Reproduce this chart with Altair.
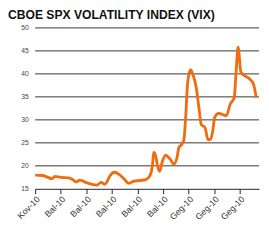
import altair as alt
import pandas as pd

days = [0, 3, 5, 6.6, 7.7, 10, 13, 14.5, 16, 17.5, 19.8, 22, 24, 25.9, 27, 27.8,
        29.2, 31, 32.9, 34.7, 36.5, 38.4, 40.6, 43.3, 44.8, 45.9, 46.3, 47.1, 47.9,
        48.6, 49.8, 51, 52.8, 54.3, 55.4, 56.2, 57.2, 58.1, 58.8, 59.6, 60.7, 61.5,
        63, 64.1, 64.9, 66.4, 67.5, 68.6, 69.4, 70.2, 71.7, 74.7, 76.3, 77.8, 78.5,
        79.3, 80.4, 81.9, 83.8, 85.3, 86.4]
vix = [18.0, 17.9, 17.5, 17.2, 17.7, 17.5, 17.4, 17.1, 16.5, 16.9, 16.4, 16.0, 15.8,
       16.4, 16.0, 16.3, 17.8, 18.6, 18.1, 17.2, 16.2, 16.6, 16.8, 17.0, 17.8, 20.4,
       22.9, 22.2, 19.8, 18.8, 21.1, 22.3, 21.4, 20.4, 21.7, 24.0, 24.6, 25.6, 30.3,
       38.1, 40.9, 40.1, 36.8, 32.2, 29.0, 28.3, 25.7, 25.8, 27.6, 30.6, 31.4, 30.9,
       33.5, 34.8, 40.1, 45.8, 40.4, 39.6, 38.9, 37.8, 34.8]
tick_days = [0, 10, 20, 30, 40, 50, 60, 70, 80]
tick_labels = ["Kov-10", "Bal-10", "Bal-10", "Bal-10", "Bal-10", "Bal-10",
               "Geg-10", "Geg-10", "Geg-10"]
y_ticks = [15, 20, 25, 30, 35, 40, 45, 50]
grid_levels = [20, 25, 30, 35, 40, 45, 50]

df = pd.DataFrame({"day": days, "vix": vix})
grid_df = pd.DataFrame({"level": grid_levels})

label_expr = "[" + ",".join(f"'{l}'" for l in tick_labels) + "][round(datum.value / 10)]"

y_scale = alt.Scale(domain=[15, 50], nice=False, zero=False)
y_axis = alt.Axis(values=y_ticks, title=None, grid=False, domain=False,
                  ticks=False, labelFontSize=7, labelColor="#444444",
                  labelFont="Liberation Sans", labelPadding=7)

grid = alt.Chart(grid_df).mark_rule(color="#333333", strokeWidth=1).encode(
    y=alt.Y("level:Q", scale=y_scale, axis=y_axis)
)

line = alt.Chart(df).mark_line(
    color="#f26b0d", strokeWidth=2.9, interpolate="monotone"
).encode(
    x=alt.X("day:Q", scale=alt.Scale(domain=[0, 87.5], nice=False, zero=False),
            axis=alt.Axis(values=tick_days, labelExpr=label_expr, title=None,
                          grid=False, labelAngle=-45, labelAlign="right",
                          labelBaseline="top", labelFontSize=9, labelColor="#333333",
                          labelFont="Liberation Sans", domainColor="#222222",
                          tickColor="#222222", tickSize=5, labelPadding=1,
                          labelOverlap=False)),
    y=alt.Y("vix:Q", scale=y_scale, axis=y_axis),
)

chart = alt.layer(grid, line).properties(
    width=231, height=166,
    autosize=alt.AutoSizeParams(type="none"),
    padding={"left": 28, "top": 17, "right": 2, "bottom": 41},
    title=alt.TitleParams("CBOE SPX VOLATILITY INDEX (VIX)", anchor="start",
                          frame="group", fontSize=12.5, fontWeight="bold",
                          font="Liberation Sans", color="#111111",
                          dx=-28, offset=3),
).configure_view(stroke=None)

chart.save("out.html", embed_options={"renderer": "svg", "actions": False})
